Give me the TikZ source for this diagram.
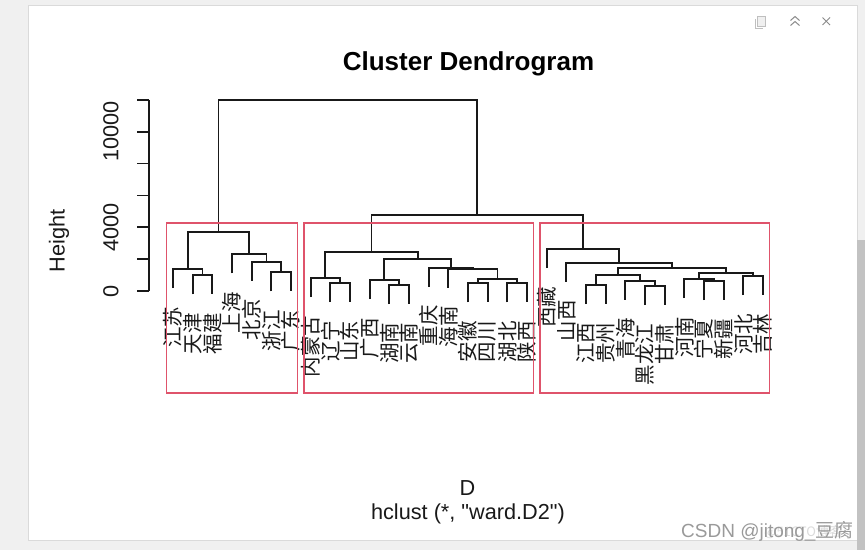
\documentclass[tikz,border=0pt]{standalone}
\usepackage{fontspec}
\setmainfont{Liberation Sans}
\newfontfamily\plainfont{Liberation Sans}
\newfontfamily\cjk{Noto Sans CJK SC}
\usetikzlibrary{calc}
\definecolor{rrect}{HTML}{DF536B}
\definecolor{winbg}{HTML}{F0F0F0}
\definecolor{winborder}{HTML}{DADADA}
\definecolor{thumb}{HTML}{C2C2C2}
\definecolor{icongray}{HTML}{8A8A8A}
\definecolor{wmark}{HTML}{9A9A9A}
\begin{document}
\begin{tikzpicture}[x=1pt,y=-1pt,
  dend/.style={line width=1.9pt, draw=black!90},
  axisline/.style={line width=1.7pt, draw=black!90},
  redbox/.style={line width=1.5pt, draw=rrect},
  leaflab/.style={font=\cjk\fontsize{20.5}{22}\selectfont, rotate=90, anchor=east, inner sep=0pt, text=black!90},
  ticklab/.style={font=\fontsize{21.7}{24}\selectfont, rotate=90, anchor=center, inner sep=0pt, text=black!90},
  plaintext/.style={font=\plainfont\fontsize{21.7}{24}\selectfont, inner sep=0pt, text=black!90},
  iconline/.style={line width=1pt, draw=icongray}]
\useasboundingbox (0,0) rectangle (865,550);
% window chrome
\fill[winbg] (0,0) rectangle (865,550);
\fill[white] (28,5) rectangle (857,540);
\draw[winborder, line width=1pt] (28,5) rectangle (857,540);
\fill[thumb] (857,240) rectangle (865,550);
% top-right icons
\draw[line width=0.8pt, draw=black!25, fill=black!6] (757,16) rectangle (765,26);
\draw[line width=0.8pt, draw=black!25] (755,19) -- (755,28) -- (763,28);
\draw[iconline] (790.5,20.5) -- (795,16.5) -- (799.5,20.5);
\draw[iconline] (790.5,25.5) -- (795,21.5) -- (799.5,25.5);
\draw[iconline] (822.5,17.5) -- (830,25);
\draw[iconline] (822.5,25) -- (830,17.5);
% title and labels
\node[font=\bfseries\fontsize{26}{30}\selectfont, anchor=base, inner sep=0pt] (title) at (468.5,70.5) {Cluster Dendrogram};
\node[plaintext, anchor=base] (xlab) at (467.5,495) {D};
\node[plaintext, anchor=base] (sublab) at (468,519) {hclust (*, "ward.D2")};
\node[ticklab] (ylab) at (59,241) {Height};
% axis
\coordinate (axtop) at (149,99.8);
\coordinate (axbot) at (149,291);
\draw[axisline] (axtop) -- (axbot);
\foreach \k in {0,...,6} {
  \coordinate (tk\k) at (149,{291-31.86*\k});
  \coordinate (tl\k) at (136.5,{291-31.86*\k});
  \draw[axisline] (tk\k) -- (tl\k);
}
\node[ticklab] (t0) at (111,291) {0};
\node[ticklab] (t4) at (111,227.3) {4000};
\node[ticklab] (t10) at (111,131.7) {10000};
% leaves
\foreach \e/\t [count=\i from 0] in {288/江苏,294.3/天津,294.3/福建,273.3/上海,280.7/北京,291.3/浙江,291.3/广东,297/内蒙古,302/辽宁,302/山东,299/广西,304/湖南,304/云南,286.7/重庆,287.7/海南,302.3/安徽,302.3/四川,302.3/湖北,302.3/陕西,268/西藏,281.7/山西,304/江西,304/贵州,299.7/青海,305/黑龙江,305/甘肃,298/河南,300/宁夏,300/新疆,295/河北,295/吉林} {
  \coordinate (L\i) at ({173+19.667*\i},\e);
  \node[leaflab] (lab\i) at ({173+19.667*\i},{\e+18.5}) {\t};
}
% internal merge points
\coordinate (tf) at (202.5,275.3);
\coordinate (js) at (187.8,269);
\coordinate (zg) at (281.2,272.3);
\coordinate (bj) at (266.5,261.7);
\coordinate (sh) at (249.2,254.3);
\coordinate (C1) at (218.5,231.7);
\coordinate (ls) at (340.2,283);
\coordinate (nm) at (325.4,278);
\coordinate (hy) at (399.2,285);
\coordinate (gx) at (384.4,280);
\coordinate (as) at (477.8,283.3);
\coordinate (hs) at (517.2,283.3);
\coordinate (four) at (497.5,278.7);
\coordinate (hn) at (472.9,268.7);
\coordinate (cq) at (450.8,267.7);
\coordinate (r2) at (417.6,259);
\coordinate (C2) at (371.5,251.7);
\coordinate (jg) at (595.8,285);
\coordinate (hg) at (654.8,286);
\coordinate (qh) at (640,280.7);
\coordinate (ga) at (617.9,275);
\coordinate (nx) at (713.8,281);
\coordinate (hen) at (699,279);
\coordinate (hj) at (753.2,276);
\coordinate (gb) at (726.1,273.3);
\coordinate (gc) at (672,267.7);
\coordinate (sx) at (619.2,262.7);
\coordinate (C3) at (583,249);
\coordinate (C23) at (477.2,214.7);
\coordinate (root) at (347.9,100);
% dendrogram edges
\draw[dend] (L1) |- (tf) -| (L2);
\draw[dend] (L0) |- (js) -| (tf);
\draw[dend] (L5) |- (zg) -| (L6);
\draw[dend] (L4) |- (bj) -| (zg);
\draw[dend] (L3) |- (sh) -| (bj);
\draw[dend] (js) |- (C1) -| (sh);
\draw[dend] (L8) |- (ls) -| (L9);
\draw[dend] (L7) |- (nm) -| (ls);
\draw[dend] (L11) |- (hy) -| (L12);
\draw[dend] (L10) |- (gx) -| (hy);
\draw[dend] (L15) |- (as) -| (L16);
\draw[dend] (L17) |- (hs) -| (L18);
\draw[dend] (as) |- (four) -| (hs);
\draw[dend] (L14) |- (hn) -| (four);
\draw[dend] (L13) |- (cq) -| (hn);
\draw[dend] (gx) |- (r2) -| (cq);
\draw[dend] (nm) |- (C2) -| (r2);
\draw[dend] (L21) |- (jg) -| (L22);
\draw[dend] (L24) |- (hg) -| (L25);
\draw[dend] (L23) |- (qh) -| (hg);
\draw[dend] (jg) |- (ga) -| (qh);
\draw[dend] (L27) |- (nx) -| (L28);
\draw[dend] (L26) |- (hen) -| (nx);
\draw[dend] (L29) |- (hj) -| (L30);
\draw[dend] (hen) |- (gb) -| (hj);
\draw[dend] (ga) |- (gc) -| (gb);
\draw[dend] (L20) |- (sx) -| (gc);
\draw[dend] (L19) |- (C3) -| (sx);
\draw[dend] (C2) |- (C23) -| (C3);
\draw[dend] (C1) |- (root) -| (C23);
% cluster rectangles
\draw[redbox] (166.3,223.2) rectangle (297.5,393);
\draw[redbox] (304,223.2) rectangle (533.5,393);
\draw[redbox] (540,223.2) rectangle (769.6,393);
% watermark
\node[font=\cjk\fontsize{13}{15}\selectfont, text=black!14, anchor=base west, inner sep=0pt] (wm2) at (764,536) {@51CTO博客};
\node[font=\fontsize{19}{21}\selectfont, text=wmark, anchor=base west, inner sep=0pt] (wm) at (681,537) {CSDN @jitong\_{\cjk 豆腐}};
\end{tikzpicture}
\end{document}
